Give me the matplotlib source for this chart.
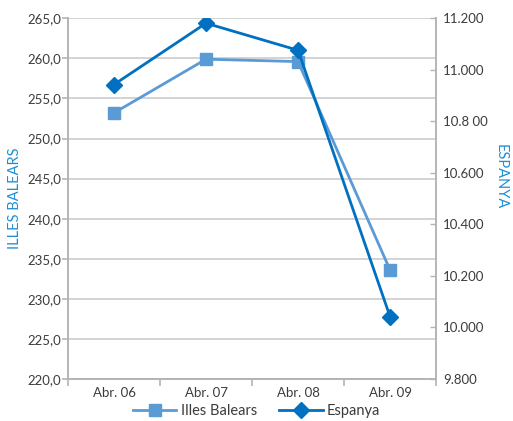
import matplotlib
matplotlib.use("Agg")
import matplotlib.pyplot as plt
from matplotlib.lines import Line2D

# data
categories = ["Abr. 06", "Abr. 07", "Abr. 08", "Abr. 09"]
illes_balears = [253.2, 259.9, 259.6, 233.6]        # left axis
espanya = [10943, 11181, 11076, 10042]              # right axis

left_ticks = [220, 225, 230, 235, 240, 245, 250, 255, 260, 265]
left_labels = ["220,0", "225,0", "230,0", "235,0", "240,0", "245,0",
               "250,0", "255,0", "260,0", "265,0"]
right_ticks = [9800, 10000, 10200, 10400, 10600, 10800, 11000, 11200]
right_labels = ["9.800", "10.000", "10.200", "10.400", "10.600", "10.8 00",
                "11.000", "11.200"]

c_ib = "#5b9bd5"
c_es = "#0070c0"
c_lab = "#1e8fd5"
c_spine = "#b4b4b4"
c_grid = "#cccccc"
c_txt = "#3c3c3c"

plt.rcParams["font.family"] = ["Lato", "DejaVu Sans"]

fig = plt.figure(figsize=(5.13, 4.21), dpi=100)
ax = fig.add_axes([0.1326, 0.0998, 0.7174, 0.8567])
ax2 = ax.twinx()

x = list(range(len(categories)))
ax.plot(x, illes_balears, color=c_ib, lw=2, marker="s", ms=8, zorder=3)
ax2.plot(x, espanya, color=c_es, lw=2, marker="D", ms=8, zorder=3)

ax.set_xlim(-0.5, 3.5)
ax.set_ylim(220, 265)
ax2.set_ylim(9800, 11200)

ax.set_yticks(left_ticks)
ax.set_yticklabels(left_labels)
ax2.set_yticks(right_ticks)
ax2.set_yticklabels(right_labels)
ax.set_xticks(x)
ax.set_xticklabels(categories)
ax.set_xticks([-0.5, 0.5, 1.5, 2.5, 3.5], minor=True)

ax.grid(axis="y", color=c_grid, lw=1.2)
ax.set_axisbelow(True)

for a in (ax, ax2):
    for s in a.spines.values():
        s.set_color(c_spine)
        s.set_linewidth(1.2)
    a.spines["top"].set_visible(False)

ax.tick_params(axis="x", which="major", length=0, pad=6, labelsize=9.5, colors=c_txt)
ax.tick_params(axis="x", which="minor", length=5, color=c_spine, width=1.2)
ax.tick_params(axis="y", length=4, color=c_spine, width=1.2, labelsize=9.5,
               labelcolor=c_txt, pad=1)
ax2.tick_params(axis="y", length=4, direction="in", color=c_spine, width=1,
                labelsize=9.5, labelcolor=c_txt, pad=5)

ax.set_ylabel("ILLES BALEARS", color=c_lab, fontsize=10.5, labelpad=4)
ax2.set_ylabel("ESPANYA", color=c_lab, fontsize=10.5, rotation=-90, labelpad=10)
ax2.yaxis.set_label_coords(1.195, 0.56)

handles = [Line2D([], [], color=c_ib, lw=2, marker="s", ms=8),
           Line2D([], [], color=c_es, lw=2, marker="D", ms=8)]
fig.legend(handles, ["Illes Balears", "Espanya"], loc="lower center",
           bbox_to_anchor=(0.5, -0.025), ncol=2, frameon=False, fontsize=10.5,
           handlelength=3, columnspacing=1.5, handletextpad=0.3, labelcolor=c_txt)

fig.savefig("out.png", dpi=100)
